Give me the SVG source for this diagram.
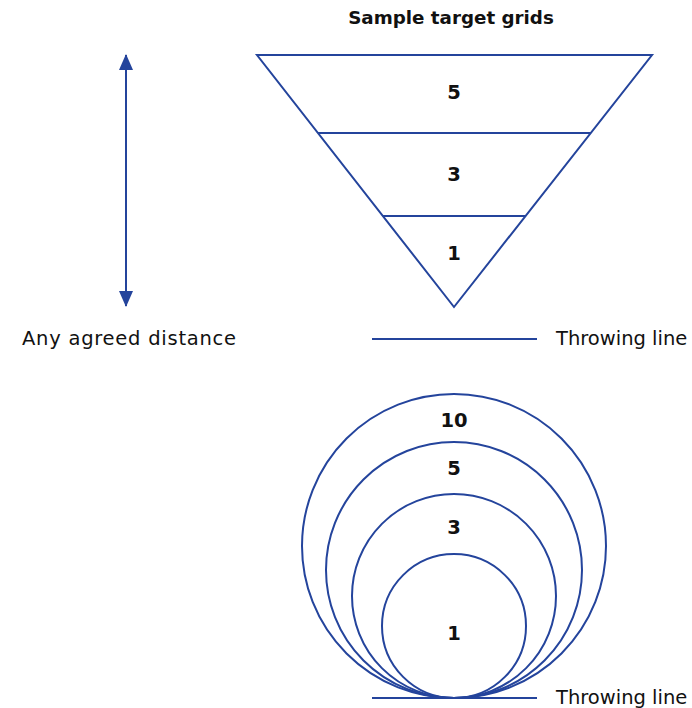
<svg xmlns="http://www.w3.org/2000/svg" width="692" height="708" viewBox="0 0 692 708">
<style>
.ln{fill:none;stroke:#24449c;stroke-width:2}
.num{font-family:"DejaVu Sans","Liberation Sans",sans-serif;font-weight:bold;font-size:19.5px;fill:#111;text-anchor:middle}
.lbl{font-family:"DejaVu Sans","Liberation Sans",sans-serif;font-size:19.5px;fill:#111}
</style>
<defs>
<marker id="ah" viewBox="0 0 16 14" refX="15" refY="7" markerWidth="16" markerHeight="14" markerUnits="userSpaceOnUse" orient="auto-start-reverse">
<path d="M0,0 L16,7 L0,14 Z" fill="#24449c"/>
</marker>
</defs>
<rect width="692" height="708" fill="#fff"/>
<text id="title" x="451" y="24" class="num" style="font-size:18.3px">Sample target grids</text>
<g id="connectors">
<line class="ln" x1="126" y1="55" x2="126" y2="306" marker-start="url(#ah)" marker-end="url(#ah)"/>
</g>
<g id="distance-label"><text class="lbl" x="22" y="345" style="letter-spacing:0.75px">Any agreed distance</text></g>
<g id="triangle">
<path class="ln" d="M257,55 L652,55 L454,307 Z"/>
<line class="ln" x1="318" y1="133" x2="591" y2="133"/>
<line class="ln" x1="383" y1="216" x2="526" y2="216"/>
<text class="num" x="454" y="99">5</text>
<text class="num" x="454" y="181">3</text>
<text class="num" x="454" y="260">1</text>
</g>
<g id="throwing-line-1">
<line class="ln" x1="372" y1="339" x2="537" y2="339"/>
<text class="lbl" x="556" y="345">Throwing line</text>
</g>
<g id="circles">
<circle class="ln" cx="454" cy="546" r="152"/>
<circle class="ln" cx="454" cy="570" r="128"/>
<circle class="ln" cx="454" cy="596" r="102"/>
<circle class="ln" cx="454" cy="626" r="72"/>
<text class="num" x="454" y="427">10</text>
<text class="num" x="454" y="475">5</text>
<text class="num" x="454" y="534">3</text>
<text class="num" x="454" y="640">1</text>
</g>
<g id="throwing-line-2">
<line class="ln" x1="372" y1="698" x2="537" y2="698"/>
<text class="lbl" x="556" y="704">Throwing line</text>
</g>
</svg>
